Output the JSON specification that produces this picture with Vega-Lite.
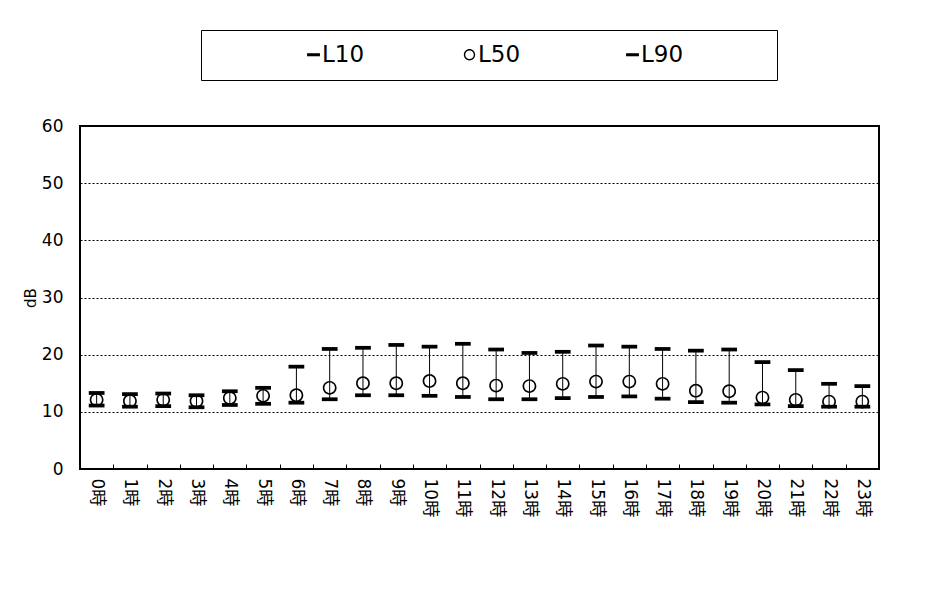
{
  "$schema": "https://vega.github.io/schema/vega-lite/v6.json",
  "autosize": "none",
  "width": 799,
  "height": 343,
  "padding": {"left": 80, "top": 126, "right": 56, "bottom": 137},
  "background": "white",
  "data": {
    "values": [
      {"hour": "0時", "L10": 13.3, "L50": 12.1, "L90": 11.1},
      {"hour": "1時", "L10": 13.1, "L50": 11.9, "L90": 10.9},
      {"hour": "2時", "L10": 13.2, "L50": 12.1, "L90": 11.0},
      {"hour": "3時", "L10": 12.9, "L50": 11.9, "L90": 10.8},
      {"hour": "4時", "L10": 13.6, "L50": 12.4, "L90": 11.2},
      {"hour": "5時", "L10": 14.2, "L50": 12.8, "L90": 11.4},
      {"hour": "6時", "L10": 17.9, "L50": 12.9, "L90": 11.6},
      {"hour": "7時", "L10": 21.0, "L50": 14.2, "L90": 12.2},
      {"hour": "8時", "L10": 21.2, "L50": 15.0, "L90": 12.9},
      {"hour": "9時", "L10": 21.7, "L50": 15.0, "L90": 12.9},
      {"hour": "10時", "L10": 21.4, "L50": 15.4, "L90": 12.8},
      {"hour": "11時", "L10": 21.9, "L50": 15.0, "L90": 12.6},
      {"hour": "12時", "L10": 20.9, "L50": 14.6, "L90": 12.2},
      {"hour": "13時", "L10": 20.3, "L50": 14.5, "L90": 12.2},
      {"hour": "14時", "L10": 20.5, "L50": 14.9, "L90": 12.4},
      {"hour": "15時", "L10": 21.6, "L50": 15.3, "L90": 12.6},
      {"hour": "16時", "L10": 21.4, "L50": 15.3, "L90": 12.7},
      {"hour": "17時", "L10": 21.0, "L50": 14.9, "L90": 12.3},
      {"hour": "18時", "L10": 20.7, "L50": 13.7, "L90": 11.7},
      {"hour": "19時", "L10": 20.9, "L50": 13.6, "L90": 11.6},
      {"hour": "20時", "L10": 18.7, "L50": 12.5, "L90": 11.3},
      {"hour": "21時", "L10": 17.3, "L50": 12.1, "L90": 11.0},
      {"hour": "22時", "L10": 14.9, "L50": 11.8, "L90": 10.9},
      {"hour": "23時", "L10": 14.5, "L50": 11.8, "L90": 10.9}
    ]
  },
  "encoding": {
    "x": {
      "field": "hour",
      "type": "nominal",
      "sort": ["0時","1時","2時","3時","4時","5時","6時","7時","8時","9時","10時","11時","12時","13時","14時","15時","16時","17時","18時","19時","20時","21時","22時","23時"],
      "scale": {"paddingInner": 0, "paddingOuter": 0},
      "axis": {
        "title": null,
        "labelAngle": 90,
        "labelAlign": "left",
        "labelBaseline": "middle",
        "labelFontSize": 17,
        "labelFont": "'DejaVu Sans', 'Noto Sans CJK JP'",
        "labelColor": "black",
        "labelPadding": 14,
        "ticks": true,
        "tickBand": "extent",
        "tickSize": -5,
        "tickColor": "black",
        "tickWidth": 1,
        "domain": false,
        "grid": false
      }
    }
  },
  "layer": [
    {
      "mark": {"type": "rule", "color": "black", "strokeWidth": 1},
      "encoding": {
        "y": {
          "field": "L90",
          "type": "quantitative",
          "scale": {"domain": [0, 60], "nice": false, "zero": true},
          "axis": {
            "title": "dB",
            "titleFontSize": 15,
            "titleFontWeight": "normal",
            "titleFont": "DejaVu Sans",
            "titleColor": "black",
            "titlePadding": 3,
            "values": [0, 10, 20, 30, 40, 50, 60],
            "labelFontSize": 17,
            "labelFont": "DejaVu Sans",
            "labelColor": "black",
            "labelPadding": 17,
            "ticks": false,
            "domain": false,
            "grid": true,
            "gridColor": "black",
            "gridDash": [2, 2],
            "gridWidth": 1,
            "gridOpacity": 1
          }
        },
        "y2": {"field": "L10"}
      }
    },
    {
      "transform": [{"fold": ["L10", "L50", "L90"], "as": ["stat", "dB"]}],
      "mark": {"type": "point", "filled": true, "color": "black", "strokeWidth": 0, "size": 225, "opacity": 1},
      "encoding": {
        "y": {"field": "dB", "type": "quantitative"},
        "shape": {
          "field": "stat",
          "type": "nominal",
          "scale": {
            "domain": ["L10", "L50", "L90"],
            "range": [
              "M-1.05,-0.25H1.05V0.25H-1.05Z",
              "M0.92,0A0.92,0.92,0,1,1,-0.92,0A0.92,0.92,0,1,1,0.92,0ZM0.7,0A0.7,0.7,0,1,0,-0.7,0A0.7,0.7,0,1,0,0.7,0Z",
              "M-1.05,-0.25H1.05V0.25H-1.05Z"
            ]
          },
          "legend": {
            "title": " ",
            "labelExpr": "datum.label == 'L90' ? datum.label + '\u00a0\u00a0\u00a0\u00a0\u00a0\u00a0\u00a0\u00a0\u00a0\u00a0\u00a0\u200b' : datum.label == 'L50' ? datum.label + '\u00a0\u200b' : datum.label"
          }
        }
      }
    }
  ],
  "config": {
    "view": {"stroke": "black", "strokeWidth": 2},
    "legend": {
      "orient": "none",
      "legendX": 121,
      "legendY": -96,
      "direction": "horizontal",
      "strokeColor": "black",
      "strokeWidth": 1,
      "padding": 13,
      "titleOrient": "left",
      "titleFontSize": 1,
      "titlePadding": 88,
      "labelFontSize": 23,
      "labelFont": "DejaVu Sans",
      "labelColor": "black",
      "labelOffset": -3,
      "columnPadding": 93,
      "symbolSize": 150,
      "symbolStrokeWidth": 0,
      "symbolFillColor": "black"
    }
  }
}
